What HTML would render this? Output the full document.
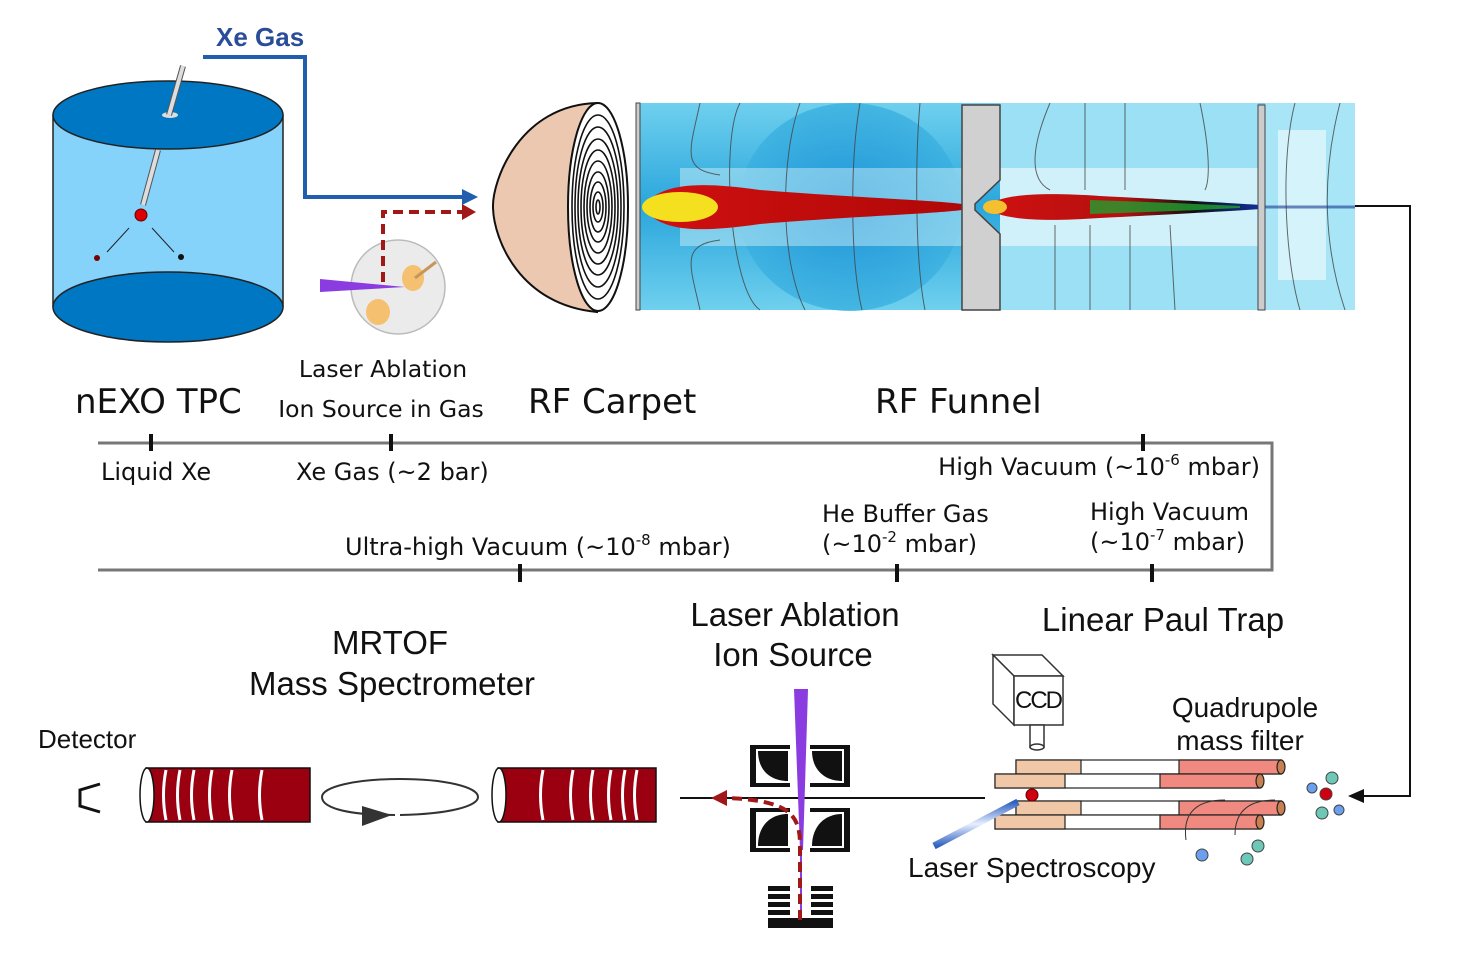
<!DOCTYPE html>
<html><head><meta charset="utf-8"><style>
html,body{margin:0;padding:0;background:#fff;}
svg{display:block;font-family:"Liberation Sans","DejaVu Sans",sans-serif;}
.dv{font-family:"DejaVu Sans","Liberation Sans",sans-serif;}
</style></head><body>
<svg width="1470" height="955" viewBox="0 0 1470 955">
<defs>
<linearGradient id="fieldBg" x1="0" y1="0" x2="0" y2="1">
<stop offset="0" stop-color="#6fd0ee"/><stop offset="0.5" stop-color="#2aa6dc"/><stop offset="1" stop-color="#6fd0ee"/></linearGradient>
<radialGradient id="blob" cx="0.5" cy="0.5" r="0.5"><stop offset="0" stop-color="#1a8fd6"/><stop offset="1" stop-color="#3ab0e0"/></radialGradient>
<linearGradient id="plume" x1="0" y1="0" x2="1" y2="0"><stop offset="0" stop-color="#d01010"/><stop offset="1" stop-color="#b00808"/></linearGradient>
<linearGradient id="plume2" x1="0" y1="0" x2="1" y2="0"><stop offset="0" stop-color="#d01010"/><stop offset="0.5" stop-color="#b51010"/><stop offset="0.75" stop-color="#101010"/><stop offset="1" stop-color="#1030a0"/></linearGradient>
<linearGradient id="fiber" x1="0" y1="0" x2="0" y2="1"><stop offset="0" stop-color="#3060c0"/><stop offset="0.5" stop-color="#e8f0ff"/><stop offset="1" stop-color="#3060c0"/></linearGradient>
</defs>

<!-- TPC cylinder -->
<g>
<rect x="53" y="115" width="230" height="192" fill="#85d2fb"/>
<line x1="53" y1="115" x2="53" y2="307" stroke="#222" stroke-width="1.5"/>
<line x1="283" y1="115" x2="283" y2="307" stroke="#222" stroke-width="1.5"/>
<ellipse cx="168" cy="307" rx="115" ry="35" fill="#0077c2" stroke="#222" stroke-width="1.5"/>
<ellipse cx="168" cy="115" rx="115" ry="34" fill="#0077c2" stroke="#222" stroke-width="1.5"/>
<ellipse cx="170" cy="115" rx="8" ry="3" fill="#ddd"/>
<line x1="183" y1="66" x2="169" y2="115" stroke="#555" stroke-width="6"/>
<line x1="183" y1="66" x2="169" y2="115" stroke="#ddd" stroke-width="4"/>
<line x1="158" y1="150" x2="143" y2="205" stroke="#555" stroke-width="6"/>
<line x1="158" y1="150" x2="143" y2="205" stroke="#ddd" stroke-width="4"/>
<circle cx="141" cy="215" r="6" fill="#d00" stroke="#600"/>
<line x1="129" y1="228" x2="107" y2="252" stroke="#222"/>
<line x1="152" y1="228" x2="174" y2="252" stroke="#222"/>
<circle cx="97" cy="258" r="3" fill="#700"/>
<circle cx="181" cy="257" r="3" fill="#111"/>
</g>

<!-- Xe gas line -->
<text x="216" y="46" font-size="26" font-weight="bold" fill="#2a4d9a">Xe Gas</text>
<polyline points="203,57 305,57 305,197 465,197" fill="none" stroke="#1f5fae" stroke-width="4"/>
<path d="M462,189 L478,197 L462,205 z" fill="#1f5fae"/>
<polyline points="383,282 383,212 463,212" fill="none" stroke="#a01818" stroke-width="4" stroke-dasharray="10,6"/>
<path d="M462,204 L476,212 L462,220 z" fill="#a01818"/>

<!-- ablation sphere -->
<g>
<circle cx="398" cy="287" r="47" fill="#ebebeb" stroke="#bbb" stroke-width="1.5"/>
<ellipse cx="413" cy="278" rx="11" ry="13" fill="#f5c070"/>
<line x1="415" y1="278" x2="436" y2="262" stroke="#c8965a" stroke-width="3"/>
<ellipse cx="378" cy="312" rx="12" ry="13" fill="#f5c070"/>
<polygon points="320,279 405,287 320,292" fill="#8a3ce0"/>
<line x1="383" y1="282" x2="383" y2="225" stroke="#a01818" stroke-width="4" stroke-dasharray="10,6"/>
</g>

<!-- RF carpet -->
<g>
<path d="M597,103 C520,105 492,180 493,208 C494,240 520,305 597,312 Z" fill="#ecc8b0" stroke="#111" stroke-width="2"/>
<ellipse cx="598" cy="207" rx="30" ry="104" fill="#fff" stroke="#111" stroke-width="2"/>
<g fill="none" stroke="#111" stroke-width="1.6">
<ellipse cx="598" cy="207" rx="26" ry="92"/><ellipse cx="598" cy="207" rx="23" ry="80"/>
<ellipse cx="598" cy="207" rx="20" ry="68"/><ellipse cx="598" cy="207" rx="17" ry="57"/>
<ellipse cx="598" cy="207" rx="14" ry="46"/><ellipse cx="598" cy="207" rx="11" ry="35"/>
<ellipse cx="598" cy="207" rx="8" ry="25"/><ellipse cx="598" cy="207" rx="5" ry="15"/>
<ellipse cx="598" cy="207" rx="2" ry="7"/></g>
</g>

<!-- RF funnel field simulation -->
<g>
<rect x="639" y="103" width="716" height="207" fill="url(#fieldBg)"/>
<ellipse cx="850" cy="207" rx="112" ry="104" fill="url(#blob)" opacity="0.8"/>
<rect x="1000" y="103" width="258" height="207" fill="#9be0f5"/>
<rect x="1265" y="103" width="90" height="207" fill="#a8e6f7"/>
<rect x="680" y="168" width="282" height="78" fill="#d8f4fb" opacity="0.45"/>
<rect x="1000" y="168" width="258" height="78" fill="#e8f8fc" opacity="0.7"/>
<rect x="1278" y="130" width="48" height="150" fill="#e8f8fc" opacity="0.7"/>
<g fill="none" stroke="#444" stroke-width="1" opacity="0.8">
<path d="M700,103 C690,150 680,170 720,175"/><path d="M700,310 C690,265 680,245 720,240"/>
<path d="M740,103 C720,140 730,290 760,310"/><path d="M800,103 C780,160 780,260 805,310"/>
<path d="M860,103 C850,160 850,260 862,310"/><path d="M920,103 C915,160 915,260 925,310"/>
<path d="M1050,103 C1030,150 1030,180 1050,190"/><path d="M1085,103 L1085,190"/>
<path d="M1125,103 L1125,190"/><path d="M1055,225 L1055,310"/><path d="M1090,225 L1090,310"/>
<path d="M1130,225 L1130,310"/><path d="M1170,225 L1175,310"/><path d="M1200,103 C1210,150 1210,180 1205,190"/>
<path d="M1295,103 C1280,160 1285,260 1300,310"/><path d="M1340,103 C1320,180 1325,250 1345,310"/>
</g>
<path d="M642,207 C660,185 690,180 760,190 C860,198 930,200 962,204 L962,210 C930,214 860,216 760,224 C690,234 660,230 642,207 Z" fill="url(#plume)"/>
<ellipse cx="680" cy="207" rx="38" ry="15" fill="#f5e020"/>
<path d="M985,207 C1000,194 1040,192 1100,196 C1180,200 1230,203 1262,205 L1262,209 C1230,211 1180,214 1100,218 C1040,222 1000,220 985,207 Z" fill="url(#plume2)"/>
<path d="M1090,200 C1150,202 1200,204 1240,206 L1240,208 C1200,210 1150,212 1090,214 Z" fill="#20a030" opacity="0.8"/>
<ellipse cx="995" cy="207" rx="12" ry="7" fill="#f5c030"/>
<rect x="636" y="103" width="4" height="207" fill="#ccc" stroke="#444"/>
<path d="M962,105 L1000,105 L1000,180 L975,204 L975,210 L1000,234 L1000,310 L962,310 Z" fill="#d0d0d0" stroke="#444" stroke-width="1.5"/>
<rect x="1258" y="105" width="7" height="205" fill="#ccc" stroke="#444"/>
<line x1="1265" y1="207" x2="1355" y2="207" stroke="#1a3a90" stroke-width="3" opacity="0.6"/>
</g>

<!-- return line -->
<polyline points="1355,206 1410,206 1410,796 1362,796" fill="none" stroke="#111" stroke-width="2"/>
<path d="M1364,789 L1348,796 L1364,803 z" fill="#111"/>

<!-- section labels -->
<g font-size="34" fill="#111" class="dv">
<text x="75" y="413" font-size="34">nEXO TPC</text>
<text x="528" y="413" font-size="34">RF Carpet</text>
<text x="875" y="413" font-size="34">RF Funnel</text>
</g>
<g font-size="23.5" fill="#111" text-anchor="middle" class="dv">
<text x="383" y="377">Laser Ablation</text>
<text x="381" y="417">Ion Source in Gas</text>
</g>

<!-- pressure bracket -->
<g stroke="#777" stroke-width="3" fill="none">
<polyline points="98,443 1272,443 1272,570 98,570"/>
</g>
<g stroke="#111" stroke-width="4">
<line x1="151" y1="434" x2="151" y2="451"/><line x1="391" y1="434" x2="391" y2="451"/><line x1="1143" y1="434" x2="1143" y2="451"/>
<line x1="520" y1="564" x2="520" y2="582"/><line x1="897" y1="564" x2="897" y2="582"/><line x1="1152" y1="564" x2="1152" y2="582"/>
</g>
<g font-size="24" fill="#111" class="dv">
<text x="101" y="480">Liquid Xe</text>
<text x="296" y="480">Xe Gas (~2 bar)</text>
<text x="1260" y="475" text-anchor="end">High Vacuum (~10<tspan font-size="15" dy="-10">-6</tspan><tspan dy="10"> mbar)</tspan></text>
<text x="345" y="555">Ultra-high Vacuum (~10<tspan font-size="15" dy="-10">-8</tspan><tspan dy="10"> mbar)</tspan></text>
<text x="822" y="522">He Buffer Gas</text>
<text x="822" y="552">(~10<tspan font-size="15" dy="-10">-2</tspan><tspan dy="10"> mbar)</tspan></text>
<text x="1090" y="520">High Vacuum</text>
<text x="1090" y="550">(~10<tspan font-size="15" dy="-10">-7</tspan><tspan dy="10"> mbar)</tspan></text>
</g>

<!-- lower labels -->
<g font-size="33" fill="#111" text-anchor="middle">
<text x="795" y="626">Laser Ablation</text>
<text x="793" y="666">Ion Source</text>
<text x="1163" y="631">Linear Paul Trap</text>
<text x="390" y="654">MRTOF</text>
<text x="392" y="695">Mass Spectrometer</text>
</g>
<text x="38" y="748" font-size="26" fill="#111">Detector</text>
<polyline points="100,784 80,790 80,806 100,812" fill="none" stroke="#111" stroke-width="3"/>

<!-- MRTOF mirrors -->
<g>
<rect x="146" y="768" width="164" height="54" fill="#9b0010" stroke="#111" stroke-width="1.5"/>
<ellipse cx="147" cy="795" rx="7" ry="27" fill="#fff" stroke="#111" stroke-width="1.5"/>
<g stroke="#fff" stroke-width="3" fill="none">
<path d="M166,770 q-5,25 0,50"/><path d="M180,770 q-5,25 0,50"/><path d="M194,770 q-5,25 0,50"/><path d="M212,770 q-5,25 0,50"/><path d="M232,770 q-5,25 0,50"/><path d="M262,770 q-5,25 0,50"/></g>
</g>
<g>
<rect x="498" y="768" width="158" height="54" fill="#9b0010" stroke="#111" stroke-width="1.5"/>
<ellipse cx="499" cy="795" rx="7" ry="27" fill="#fff" stroke="#111" stroke-width="1.5"/>
<g stroke="#fff" stroke-width="3" fill="none">
<path d="M543,770 q-5,25 0,50"/><path d="M573,770 q-5,25 0,50"/><path d="M593,770 q-5,25 0,50"/><path d="M611,770 q-5,25 0,50"/><path d="M625,770 q-5,25 0,50"/><path d="M637,770 q-5,25 0,50"/></g>
</g>
<path d="M395,815 C340,815 322,806 322,797 C322,787 355,779 400,779 C445,779 478,787 478,797 C478,806 450,814 400,815" fill="none" stroke="#333" stroke-width="2"/>
<path d="M362,806 L392,815 L362,826 z" fill="#333"/>

<!-- central beamline -->
<line x1="680" y1="798" x2="985" y2="798" stroke="#111" stroke-width="2"/>

<!-- laser ablation ion source -->
<g>
<path d="M750,745 L790,745 L790,749 L756,749 L756,783 L790,783 L790,787 L750,787 Z" fill="#111"/>
<path d="M758,751 L788,751 L788,781 C770,781 758,770 758,751 Z" fill="#111"/>
<path d="M850,745 L810,745 L810,749 L844,749 L844,783 L810,783 L810,787 L850,787 Z" fill="#111"/>
<path d="M842,751 L812,751 C812,770 825,781 842,781 Z" fill="#111"/>
<path d="M750,852 L790,852 L790,848 L756,848 L756,812 L790,812 L790,808 L750,808 Z" fill="#111"/>
<path d="M758,846 L788,846 L788,814 C770,814 758,826 758,846 Z" fill="#111"/>
<path d="M850,852 L810,852 L810,848 L844,848 L844,812 L810,812 L810,808 L850,808 Z" fill="#111"/>
<path d="M842,846 L812,846 C812,826 825,814 842,814 Z" fill="#111"/>
<polygon points="794,689 808,689 803,850 800,850" fill="#8a3ce0"/>
<line x1="801" y1="850" x2="801" y2="920" stroke="#8a3ce0" stroke-width="2"/>
<g fill="#111"><rect x="768" y="886" width="22" height="5"/><rect x="768" y="894" width="22" height="5"/><rect x="768" y="902" width="22" height="5"/><rect x="768" y="910" width="22" height="5"/>
<rect x="811" y="886" width="22" height="5"/><rect x="811" y="894" width="22" height="5"/><rect x="811" y="902" width="22" height="5"/><rect x="811" y="910" width="22" height="5"/>
<rect x="768" y="918" width="65" height="10"/></g>
<path d="M800,920 L800,845 C800,815 790,800 725,798" fill="none" stroke="#a01818" stroke-width="4" stroke-dasharray="10,6"/>
<path d="M727,790 L711,798 L727,806 z" fill="#a01818"/>
</g>

<!-- CCD -->
<g fill="#fff" stroke="#333" stroke-width="1.5">
<path d="M993,655 L1042,655 L1063,676 L1014,676 Z"/>
<path d="M993,655 L1014,676 L1014,725 L993,704 Z"/>
<rect x="1014" y="676" width="49" height="49"/>
<rect x="1030" y="725" width="14" height="22"/>
<ellipse cx="1037" cy="747" rx="7" ry="3"/>
</g>
<text x="1038" y="708" font-size="24" fill="#111" text-anchor="middle" letter-spacing="-2">CCD</text>

<!-- Quadrupole rods -->
<g stroke="#222" stroke-width="1.2">
<g transform="translate(1016,760)">
<rect x="0" y="0" width="265" height="14" fill="#fff"/><rect x="0" y="0" width="65" height="14" fill="#f0c8a8"/><rect x="163" y="0" width="102" height="14" fill="#f08a80"/>
<ellipse cx="265" cy="7" rx="4" ry="7" fill="#c88050"/></g>
<g transform="translate(995,774)">
<rect x="0" y="0" width="265" height="14" fill="#fff"/><rect x="0" y="0" width="70" height="14" fill="#f0c8a8"/><rect x="165" y="0" width="100" height="14" fill="#f08a80"/>
<ellipse cx="265" cy="7" rx="4" ry="7" fill="#c88050"/></g>
<g transform="translate(1016,801)">
<rect x="0" y="0" width="265" height="14" fill="#fff"/><rect x="0" y="0" width="65" height="14" fill="#f0c8a8"/><rect x="163" y="0" width="102" height="14" fill="#f08a80"/>
<ellipse cx="265" cy="7" rx="4" ry="7" fill="#c88050"/></g>
<g transform="translate(995,815)">
<rect x="0" y="0" width="265" height="14" fill="#fff"/><rect x="0" y="0" width="70" height="14" fill="#f0c8a8"/><rect x="165" y="0" width="100" height="14" fill="#f08a80"/>
<ellipse cx="265" cy="7" rx="4" ry="7" fill="#c88050"/></g>
</g>
<circle cx="1032" cy="795" r="6" fill="#d00010" stroke="#600"/>
<line x1="934" y1="846" x2="1018" y2="802" stroke="url(#fiber)" stroke-width="7"/>
<path d="M1186,840 C1182,810 1200,800 1225,800 M1235,835 C1235,810 1250,800 1275,800" fill="none" stroke="#333"/>
<g stroke="#444" stroke-width="1">
<circle cx="1312" cy="788" r="5" fill="#6aa0ee"/><circle cx="1332" cy="778" r="6" fill="#6ec8b8"/>
<circle cx="1326" cy="794" r="6" fill="#d00010"/><circle cx="1322" cy="813" r="6" fill="#6ec8b8"/>
<circle cx="1339" cy="810" r="5" fill="#6aa0ee"/>
<circle cx="1202" cy="855" r="6" fill="#6aa0ee"/><circle cx="1258" cy="846" r="6" fill="#6ec8b8"/><circle cx="1247" cy="859" r="6" fill="#6ec8b8"/>
</g>
<g font-size="28" fill="#111">
<text x="1245" y="717" text-anchor="middle">Quadrupole</text>
<text x="1240" y="750" text-anchor="middle">mass filter</text>
<text x="908" y="877">Laser Spectroscopy</text>
</g>
</svg>
</body></html>
